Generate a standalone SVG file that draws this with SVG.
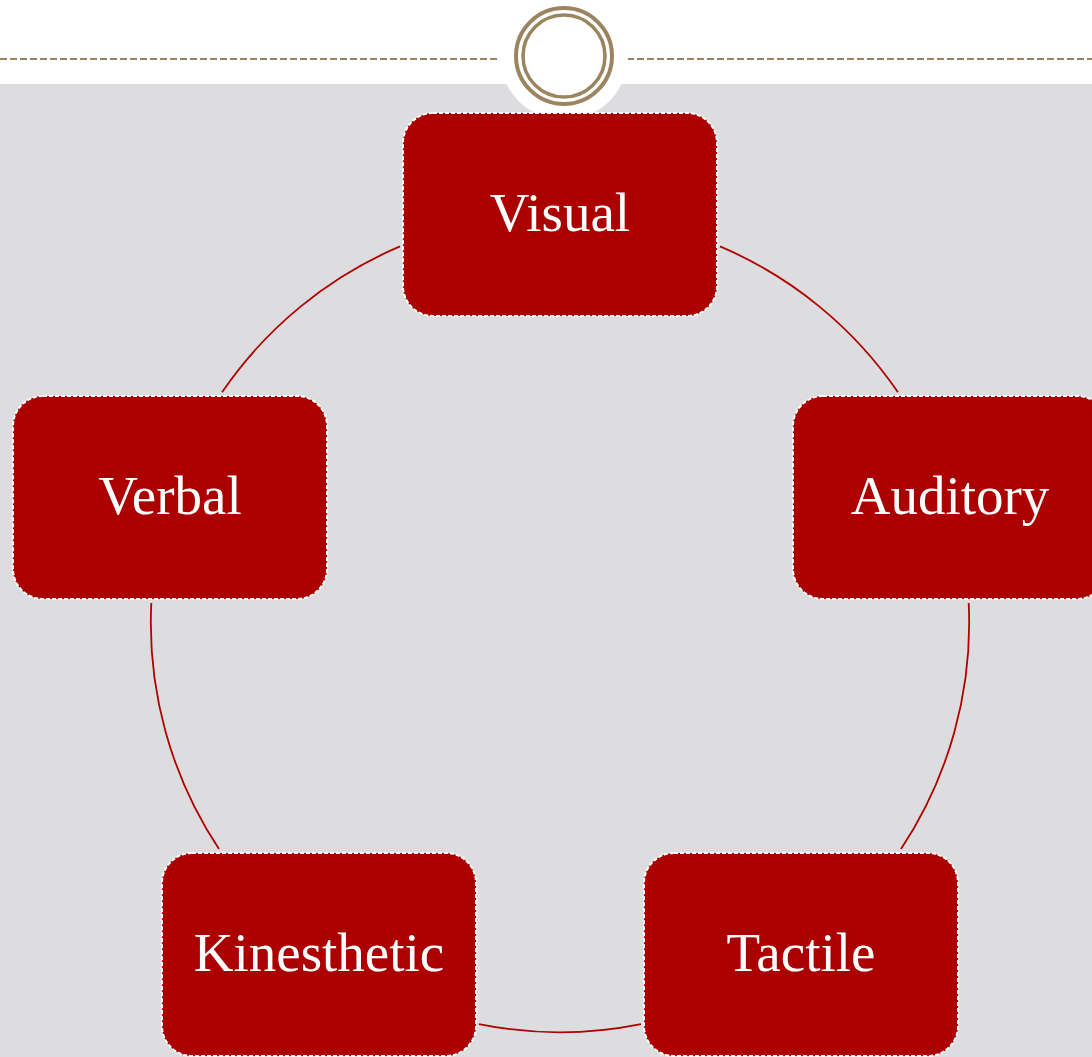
<svg xmlns="http://www.w3.org/2000/svg" width="1092" height="1057" viewBox="0 0 1092 1057">
<style>
.node rect{fill:#AC0000;stroke:#FFFFFF;stroke-width:2;stroke-dasharray:4 2}
.node text{fill:#FFFFFF;font-family:"Liberation Serif","DejaVu Serif",serif;font-size:55px;text-anchor:middle}
.conn path{fill:none;stroke:#B00000;stroke-width:1.8}
.orn{fill:none;stroke:#9B8560}
</style>
<rect x="0" y="0" width="1092" height="1057" fill="#FFFFFF"/>
<rect x="0" y="84" width="1092" height="973" fill="#DDDDE0"/>
<g id="header">
<line x1="0" y1="59" x2="498" y2="59" stroke="#9B8560" stroke-width="2" stroke-dasharray="7 3"/>
<line x1="627" y1="59" x2="1092" y2="59" stroke="#9B8560" stroke-width="2" stroke-dasharray="7 3"/>
<circle cx="564" cy="56" r="64" fill="#FFFFFF"/>
<circle class="orn" cx="564" cy="56" r="48" stroke-width="4"/>
<circle class="orn" cx="564" cy="56" r="41" stroke-width="3.5"/>
</g>
<g class="conn" id="connectors">
<path d="M720,246.4 A409.2,409.2 0 0 1 898,392.3"/>
<path d="M968.7,603 A409.2,409.2 0 0 1 901,849"/>
<path d="M641,1024.1 A409.2,409.2 0 0 1 479,1024.1"/>
<path d="M219,849 A409.2,409.2 0 0 1 151.3,603"/>
<path d="M222,392.3 A409.2,409.2 0 0 1 400,246.4"/>
</g>
<g class="node" id="node-visual">
<rect x="403" y="113" width="314" height="203" rx="30"/>
<text x="560" y="231">Visual</text>
</g>
<g class="node" id="node-auditory">
<rect x="793" y="396" width="314" height="203" rx="30"/>
<text x="950" y="514">Auditory</text>
</g>
<g class="node" id="node-tactile">
<rect x="644" y="853" width="314" height="203" rx="30"/>
<text x="801" y="971">Tactile</text>
</g>
<g class="node" id="node-kinesthetic">
<rect x="162" y="853" width="314" height="203" rx="30"/>
<text x="319" y="971">Kinesthetic</text>
</g>
<g class="node" id="node-verbal">
<rect x="13" y="396" width="314" height="203" rx="30"/>
<text x="170" y="514">Verbal</text>
</g>
</svg>
